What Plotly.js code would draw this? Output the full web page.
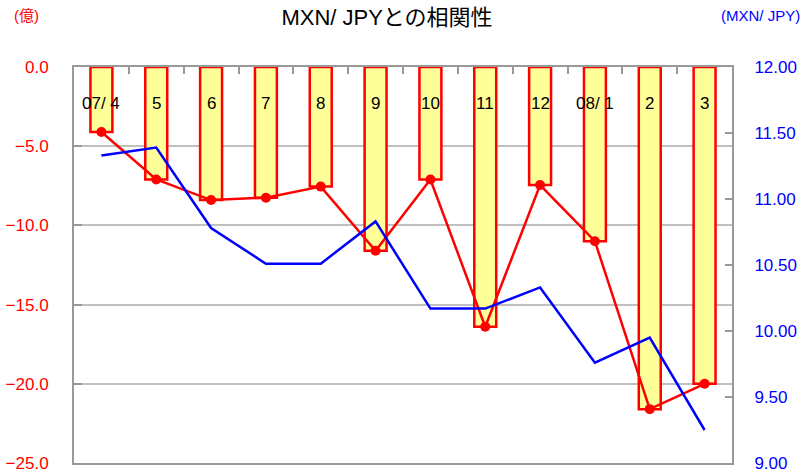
<!DOCTYPE html>
<html>
<head>
<meta charset="utf-8">
<script src="https://cdn.plot.ly/plotly-3.0.1.min.js"></script>
<style>html,body{margin:0;padding:0;background:#fff;}#chart{width:807px;height:475px;}</style>
</head>
<body>
<div id="chart"></div>
<script>
const categories = ["07/4", "5", "6", "7", "8", "9", "10", "11", "12", "08/1", "2", "3"];
const categoryLabels = ["07/ 4", "5", "6", "7", "8", "9", "10", "11", "12", "08/ 1", "2", "3"];
const flowValues = [-4.1, -7.1, -8.4, -8.25, -7.55, -11.6, -7.1, -16.4, -7.45, -11.0, -21.6, -20.0];
const mxnJpy = [11.33, 11.39, 10.78, 10.51, 10.51, 10.83, 10.17, 10.17, 10.33, 9.76, 9.95, 9.25];
const leftTicks = [0, -5, -10, -15, -20, -25];
const rightTicks = [12, 11.5, 11, 10.5, 10, 9.5, 9];

const FONT = "Liberation Sans, Arial, Noto Sans CJK JP, sans-serif";

const traces = [
  {
    type: "bar", x: categories, y: flowValues, yaxis: "y",
    width: 0.4,
    marker: {color: "#ffff99", line: {color: "#ff0000", width: 2.5}},
    hoverinfo: "skip"
  },
  {
    type: "scatter", mode: "lines+markers", x: categories, y: flowValues, yaxis: "y",
    line: {color: "#ff0000", width: 2.5},
    marker: {color: "#ff0000", size: 10}
  },
  {
    type: "scatter", mode: "lines", x: categories, y: mxnJpy, yaxis: "y2",
    line: {color: "#0000ff", width: 2.5}
  }
];

// category labels placed at each category's index on the category axis
const catAnnotations = categoryLabels.map((label, i) => ({
  text: label, x: i, xref: "x", y: 1 - (103 - 67) / 396, yref: "paper",
  xanchor: "center", yanchor: "middle", showarrow: false,
  font: {family: FONT, size: 17, color: "#000"}
}));

const layout = {
  width: 807, height: 475,
  margin: {l: 74, r: 75, t: 67, b: 12, pad: 0},
  paper_bgcolor: "#ffffff", plot_bgcolor: "#ffffff",
  showlegend: false,
  font: {family: FONT, size: 17, color: "#000"},
  title: {
    text: "MXN/ JPYとの相関性",
    font: {family: FONT, size: 22, color: "#000"},
    x: 387 / 807, xanchor: "center", y: 1 - 17/475, yanchor: "middle", xref: "container", yref: "container"
  },
  bargap: 0.6,
  xaxis: {
    type: "category", side: "top", range: [-0.5, 11.5],
    showline: true, mirror: true, linecolor: "#999999", linewidth: 2,
    ticks: "inside", tickson: "boundaries", ticklen: 7, tickcolor: "#999999", tickwidth: 2,
    showticklabels: false,
    showgrid: false, zeroline: false, fixedrange: true
  },
  yaxis: {
    range: [-25, 0], tickvals: leftTicks, tickformat: ".1f",
    showline: true, linecolor: "#999999", linewidth: 2,
    ticks: "inside", ticklen: 8, tickcolor: "#999999", tickwidth: 2,
    ticklabelstandoff: 20,
    showgrid: true, gridcolor: "#c0c0c0", gridwidth: 2,
    zeroline: false,
    tickfont: {family: FONT, size: 17, color: "#ff0000"}
  },
  yaxis2: {
    range: [9, 12], tickvals: rightTicks, tickformat: ".2f",
    overlaying: "y", side: "right",
    showline: true, linecolor: "#999999", linewidth: 2,
    ticks: "inside", ticklen: 7, tickcolor: "#999999", tickwidth: 2,
    ticklabelstandoff: 17,
    showgrid: false, zeroline: false,
    tickfont: {family: FONT, size: 17, color: "#0000ff"}
  },
  annotations: catAnnotations.concat([
    {text: "(億)", xref: "paper", yref: "paper", x: (12 - 74) / 658, y: 1 + (67 - 15) / 396, xanchor: "left", yanchor: "middle", showarrow: false,
     font: {family: FONT, size: 15, color: "#ff0000"}},
    {text: "(MXN/ JPY)", xref: "paper", yref: "paper", x: 1 + (802 - 732) / 658, y: 1 + (67 - 15) / 396, xanchor: "right", yanchor: "middle", showarrow: false,
     font: {family: FONT, size: 15, color: "#0000ff"}}
  ])
};

Plotly.newPlot("chart", traces, layout, {displayModeBar: false, staticPlot: true});
</script>
</body>
</html>
